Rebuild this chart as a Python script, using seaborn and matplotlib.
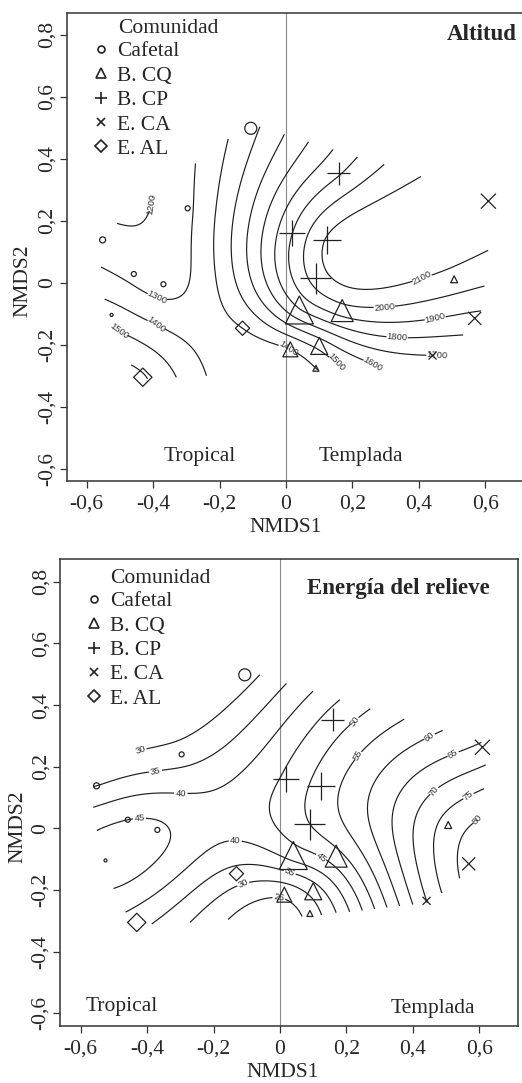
import numpy as np
import pandas as pd
import matplotlib
matplotlib.use("Agg")
import matplotlib.pyplot as plt
from matplotlib.path import Path
from matplotlib.lines import Line2D
import seaborn as sns

# sitios de muestreo (puntajes NMDS)
comunidad = ['Cafetal'] * 6 + ['B. CQ'] * 6 + ['B. CP'] * 4 + ['E. CA'] * 3 + ['E. AL'] * 2
nmds1 = [-0.106, -0.296, -0.552, -0.458, -0.369, -0.525,
         0.040, 0.169, 0.013, 0.100, 0.090, 0.506,
         0.159, 0.019, 0.124, 0.090,
         0.609, 0.568, 0.441,
         -0.431, -0.131]
nmds2 = [0.498, 0.240, 0.138, 0.028, -0.005, -0.104,
         -0.088, -0.090, -0.215, -0.204, -0.276, 0.011,
         0.353, 0.159, 0.138, 0.014,
         0.263, -0.115, -0.235,
         -0.305, -0.147]
abundancia = [12, 5, 6, 5, 5, 3,
              28, 22, 15, 17, 6, 7,
              23, 26, 28, 31,
              15, 13, 8,
              18, 14]
altitud = [1470, 1280, 1235, 1270, 1260, 1450,
           1790, 1950, 1400, 1530, 1400, 2060,
           1890, 1900, 2110, 2040,
           2150, 1870, 1700,
           1610, 1400]
energia = [28, 32.5, 35, 45, 46, 48,
           42, 48, 26, 32, 27, 77,
           47, 46, 52, 50,
           66, 82, 70,
           37, 33]

grupos = ['Cafetal', 'B. CQ', 'B. CP', 'E. CA', 'E. AL']
marcas = {'Cafetal': 'o', 'B. CQ': '^', 'B. CP': '+', 'E. CA': 'x', 'E. AL': 'D'}
escala = {'Cafetal': 1.0, 'B. CQ': 1.0, 'B. CP': 1.0, 'E. CA': 1.0, 'E. AL': 0.72}

niveles_alt = list(range(1200, 2101, 100))
niveles_ene = list(range(25, 81, 5))

etq_alt = [(-0.44, 0.256), (-0.394, -0.054), (-0.404, -0.147), (-0.51, -0.163),
           (-0.007, -0.228), (0.139, -0.265), (0.305, -0.27), (0.455, -0.23),
           (0.335, -0.172), (0.45, -0.118), (0.295, -0.072), (0.41, 0.014)]
etq_ene = [(-0.416, 0.245), (-0.371, 0.173), (-0.299, 0.103), (-0.421, 0.018),
           (-0.135, -0.043), (0.03, -0.141), (-0.105, -0.189), (-0.005, -0.235),
           (0.115, -0.10), (0.241, 0.34), (0.246, 0.232), (0.456, 0.292),
           (0.519, 0.243), (0.476, 0.115), (0.569, 0.103), (0.597, 0.027)]

df = pd.DataFrame({'Comunidad': comunidad, 'NMDS1': nmds1, 'NMDS2': nmds2,
                   'abundancia': abundancia, 'altitud': altitud, 'energia': energia})

sns.set_style("white")
plt.rcParams['font.family'] = ['Liberation Serif', 'DejaVu Serif']


def tps(x, y, v, gx, gy, lam=0.0):
    # thin plate spline ajustado a los valores de cada sitio
    pts = np.column_stack([x, y])
    d = np.sqrt(((pts[:, None, :] - pts[None, :, :]) ** 2).sum(-1))
    with np.errstate(divide='ignore', invalid='ignore'):
        K = np.where(d > 0, d ** 2 * np.log(d), 0.0)
    n = len(x)
    P = np.column_stack([np.ones(n), x, y])
    A = np.zeros((n + 3, n + 3))
    A[:n, :n] = K + lam * np.eye(n)
    A[:n, n:] = P
    A[n:, :n] = P.T
    b = np.concatenate([v, np.zeros(3)])
    sol = np.linalg.solve(A, b)
    w, a = sol[:n], sol[n:]
    G = np.column_stack([gx.ravel(), gy.ravel()])
    dg = np.sqrt(((G[:, None, :] - pts[None, :, :]) ** 2).sum(-1))
    with np.errstate(divide='ignore', invalid='ignore'):
        Kg = np.where(dg > 0, dg ** 2 * np.log(dg), 0.0)
    z = Kg @ w + a[0] + a[1] * G[:, 0] + a[2] * G[:, 1]
    return z.reshape(gx.shape)


def envolvente(x, y):
    pts = sorted(set(zip(x, y)))

    def cross(o, a, b):
        return (a[0] - o[0]) * (b[1] - o[1]) - (a[1] - o[1]) * (b[0] - o[0])
    lower, upper = [], []
    for p in pts:
        while len(lower) >= 2 and cross(lower[-2], lower[-1], p) <= 0:
            lower.pop()
        lower.append(p)
    for p in reversed(pts):
        while len(upper) >= 2 and cross(upper[-2], upper[-1], p) <= 0:
            upper.pop()
        upper.append(p)
    return np.array(lower[:-1] + upper[:-1])


def panel(ax, columna, niveles, etiquetas, titulo, xt, lims, trop, templ, xlab, ylab):
    x = df['NMDS1'].values
    y = df['NMDS2'].values
    gx, gy = np.meshgrid(np.linspace(x.min() - 0.01, x.max() + 0.01, 220),
                         np.linspace(y.min() - 0.01, y.max() + 0.01, 170))
    z = tps(x, y, df[columna].values.astype(float), gx, gy)
    hull = envolvente(x, y)
    c = hull.mean(axis=0)
    hull = c + (hull - c) * 1.035
    dentro = Path(hull).contains_points(np.column_stack([gx.ravel(), gy.ravel()]))
    z = np.ma.masked_where(~dentro.reshape(gx.shape), z)

    ax.axvline(0, color='#8a8a8a', lw=0.8, zorder=1)
    cs = ax.contour(gx, gy, z, levels=niveles, colors='#1e1e1e', linewidths=0.85, zorder=2)
    txt = ax.clabel(cs, manual=etiquetas, inline=True, fontsize=6.8, fmt='%d', inline_spacing=3)
    for t in txt:
        t.set_family('Liberation Sans')
        t.set_color('#333333')

    for g in grupos:
        sub = df[df['Comunidad'] == g]
        tam = (sub['abundancia'].values * escala[g] / 1.389) ** 2
        if marcas[g] in ('+', 'x'):
            sns.scatterplot(data=sub, x='NMDS1', y='NMDS2', marker=marcas[g], s=tam,
                            color='#222222', linewidth=0.9, ax=ax, zorder=3, legend=False)
        else:
            sns.scatterplot(data=sub, x='NMDS1', y='NMDS2', marker=marcas[g], s=tam,
                            facecolor='none', edgecolor='#222222', linewidth=0.9,
                            ax=ax, zorder=3, legend=False)

    ax.set_xlim(lims[0], lims[1])
    ax.set_ylim(lims[2], lims[3])
    xticks = [-0.6, -0.4, -0.2, 0, 0.2, 0.4, 0.6]
    yticks = [-0.6, -0.4, -0.2, 0, 0.2, 0.4, 0.6, 0.8]
    fmt = lambda v: '0' if abs(v) < 1e-9 else ('%.1f' % v).replace('.', ',')
    ax.set_xticks(xticks)
    ax.set_xticklabels([fmt(v) for v in xticks], fontsize=15.5)
    ax.set_yticks(yticks)
    ax.set_yticklabels([fmt(v) for v in yticks], fontsize=15.5, rotation=90, va='center')
    ax.tick_params(direction='out', length=5, width=0.9, color='#333333',
                   bottom=True, left=True)
    ax.tick_params(axis='x', pad=5)
    ax.tick_params(axis='y', pad=2)
    ax.set_xlabel('NMDS1', fontsize=15.5, va='center')
    ax.set_ylabel('NMDS2', fontsize=15.5, va='center')
    ax.xaxis.set_label_coords(*xlab)
    ax.yaxis.set_label_coords(*ylab)
    for s in ax.spines.values():
        s.set_color('#333333')
        s.set_linewidth(1.1)

    ax.text(xt[0], xt[1], titulo, fontsize=16.5, fontweight='bold', ha='right', va='center')
    ax.text(trop[0], trop[1], 'Tropical', fontsize=15.5, ha='center', va='center')
    ax.text(templ[0], templ[1], 'Templada', fontsize=15.5, ha='center', va='center')


fig = plt.figure(figsize=(5.22, 10.83), dpi=100)
ax1 = fig.add_axes([0.1278, 0.5561, 0.8740, 0.4316])
ax2 = fig.add_axes([0.1149, 0.0529, 0.8774, 0.4309])

panel(ax1, 'altitud', niveles_alt, etq_alt, 'Altitud', (0.694, 0.801),
      (-0.66, 0.713, -0.639, 0.869), (-0.26, -0.561), (0.224, -0.561),
      (0.479, -0.099), (-0.096, 0.427))
ax1.spines['right'].set_visible(False)
panel(ax2, 'energia', niveles_ene, etq_ene, 'Energía del relieve', (0.632, 0.778),
      (-0.662, 0.716, -0.640, 0.8735), (-0.476, -0.579), (0.461, -0.584),
      (0.486, -0.101), (-0.091, 0.426))

# leyenda
tam_ley = {'Cafetal': 5, 'B. CQ': 7, 'B. CP': 8.5, 'E. CA': 6, 'E. AL': 6}
for ax, (tx, ty), ly in [(ax1, (-0.506, 0.821), 0.940), (ax2, (-0.511, 0.812), 0.931)]:
    ax.text(tx, ty, 'Comunidad', fontsize=15.5, ha='left', va='center')
    handles = []
    for g in grupos:
        if marcas[g] in ('+', 'x'):
            h = Line2D([], [], ls='', marker=marcas[g], ms=tam_ley[g], mew=1.2, color='#222222')
        else:
            h = Line2D([], [], ls='', marker=marcas[g], ms=tam_ley[g], mew=1.2,
                       mfc='none', mec='#222222')
        handles.append(h)
    ax.legend(handles, grupos, loc='upper left', bbox_to_anchor=(0.053, ly),
              frameon=False, fontsize=15.5, handlelength=0.9, handletextpad=0.3,
              labelspacing=0.2, borderaxespad=0, borderpad=0)

fig.savefig('out.png', dpi=100)
